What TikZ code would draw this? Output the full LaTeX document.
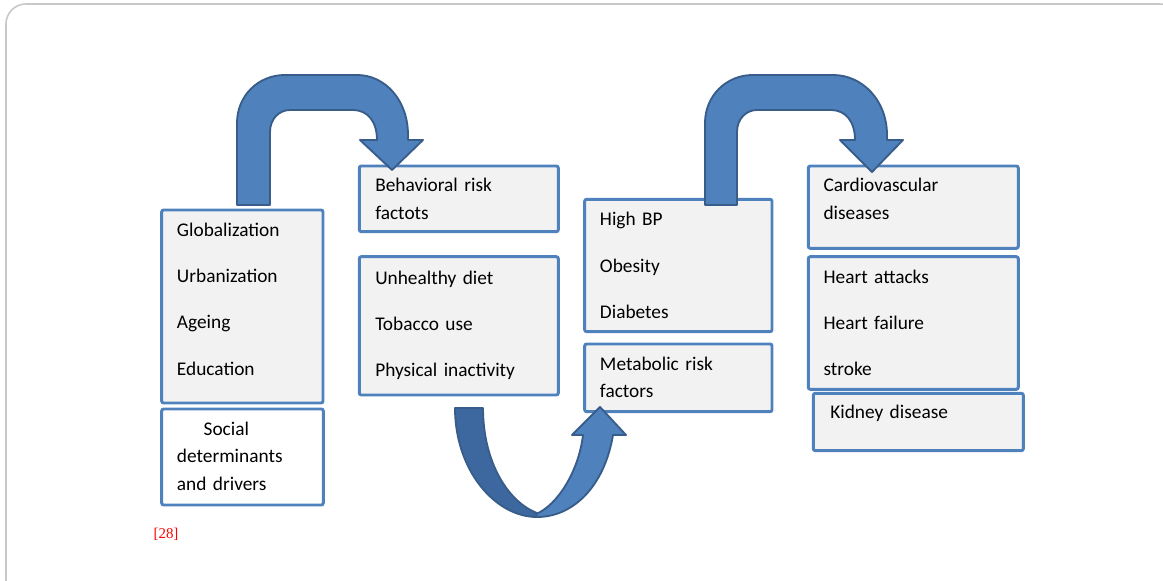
\documentclass[tikz,border=0pt]{standalone}
\usepackage{fontspec}
\setmainfont{Carlito}
\newfontfamily\reffont{Liberation Serif}
\usetikzlibrary{fit}
\definecolor{boxblue}{HTML}{4F81BD}
\definecolor{boxfill}{HTML}{F2F2F2}
\definecolor{arrowfill}{HTML}{4F81BD}
\definecolor{arrowline}{HTML}{385D8A}
\definecolor{arrowdark}{HTML}{3C689F}
\definecolor{framegray}{HTML}{C8C8C8}

\begin{document}
\begin{tikzpicture}[x=0.75pt,y=-0.75pt,
  box/.style={draw=boxblue, line width=2.2pt, fill=boxfill, rounded corners=1.5pt, inner sep=0pt},
  txt/.style={anchor=base west, inner sep=0pt, text width=180pt, align=left,
              font=\fontsize{14.5}{34.8}\selectfont},
  txttwo/.style={txt, font=\fontsize{14.5}{20.7}\selectfont},
  bigarrow/.style={fill=arrowfill, draw=arrowline, line width=1.4pt, line join=round}]

\useasboundingbox (0,0) rectangle (1163,581);

% outer frame
\begin{scope}
  \clip (0,0) rectangle (1163,581);
  \draw[framegray, line width=1.2pt, rounded corners=15pt] (6,4) rectangle (1180,600);
\end{scope}

% boxes
\node[box, fit={(161.7,210) (323,403)}] (glob) {};
\node[box, fill=white, fit={(161.7,409) (323.3,505)}] (social) {};
\node[box, fit={(359.3,166) (558.3,231.7)}] (behav) {};
\node[box, fit={(359.3,256.7) (558.3,395)}] (unhealthy) {};
\node[box, fit={(584.7,199.3) (772,331.7)}] (highbp) {};
\node[box, fit={(584.7,344) (772,411.7)}] (metab) {};
\node[box, fit={(808.3,166) (1018.3,248.3)}] (cardio) {};
\node[box, fit={(808.3,256.7) (1018.3,389.3)}] (heart) {};
\node[box, fit={(813.3,393.3) (1023.3,450.7)}] (kidney) {};

% texts
\node[txt] (globtxt) at (176.7,236) {Globalization\\Urbanization\\Ageing\\Education};
\node[txttwo, font=\fontsize{14.5}{20.9}\selectfont] (socialtxt) at (176.7,435)
  {\hspace*{20pt}Social\\determinants\\and drivers};
\node[txttwo] (behavtxt) at (375,191.7) {Behavioral risk\\factots};
\node[txt, font=\fontsize{14.5}{34.5}\selectfont] (unhealthytxt) at (375,284)
  {Unhealthy diet\\Tobacco use\\Physical inactivity};
\node[txt] (highbptxt) at (599.7,225.7) {High BP\\Obesity\\Diabetes};
\node[txttwo, font=\fontsize{14.5}{20.5}\selectfont] (metabtxt) at (599.7,370) {Metabolic risk\\factors};
\node[txttwo] (cardiotxt) at (823.3,191.7) {Cardiovascular\\diseases};
\node[txt, font=\fontsize{14.5}{34.4}\selectfont] (hearttxt) at (823.3,283.3) {Heart attacks\\Heart failure\\stroke};
\node[txt] (kidneytxt) at (830,418.3) {Kidney disease};
\node[anchor=base west, inner sep=0pt, text=red] (ref) at (153.3,538.3)
  {\reffont\fontsize{11.2}{13}\selectfont [28]};

% bent arrow: social determinants -> behavioral risk factors
\draw[bigarrow] (237,205) -- (237,123) .. controls (237,96) and (258,75) .. (285,75)
  -- (357,75) .. controls (385,75) and (408,100) .. (408,135) -- (408,140)
  -- (423,140) -- (392,170) -- (360,140) -- (377,140)
  .. controls (377,122) and (368,110) .. (353,110) -- (290,110)
  .. controls (279,110) and (270,119) .. (270,132) -- (270,205) -- cycle;

% bent arrow: metabolic risk factors -> cardiovascular diseases
\draw[bigarrow] (705,205) -- (705,123) .. controls (705,96) and (726,75) .. (753,75)
  -- (833,75) .. controls (862,75) and (887,100) .. (887,135) -- (887,140)
  -- (903,140) -- (872,172) -- (840,140) -- (855,140)
  .. controls (855,122) and (846,110) .. (831,110) -- (757,110)
  .. controls (746,110) and (737,119) .. (737,132) -- (737,205) -- cycle;

% curved U arrow: behavioral risk factors -> metabolic risk factors
\draw[fill=arrowdark, draw=arrowline, line width=1.4pt, line join=round]
  (455,408) .. controls (455,470) and (495,517) .. (537,517)
  -- (537,513) .. controls (508,502) and (483,462) .. (483,408) -- cycle;
\draw[bigarrow]
  (536,514) .. controls (558,505) and (579,470) .. (583,435)
  -- (572,435) -- (600,407) -- (626,435) -- (613,435)
  .. controls (604,488) and (572,517) .. (537,517) -- cycle;

\end{tikzpicture}
\end{document}
